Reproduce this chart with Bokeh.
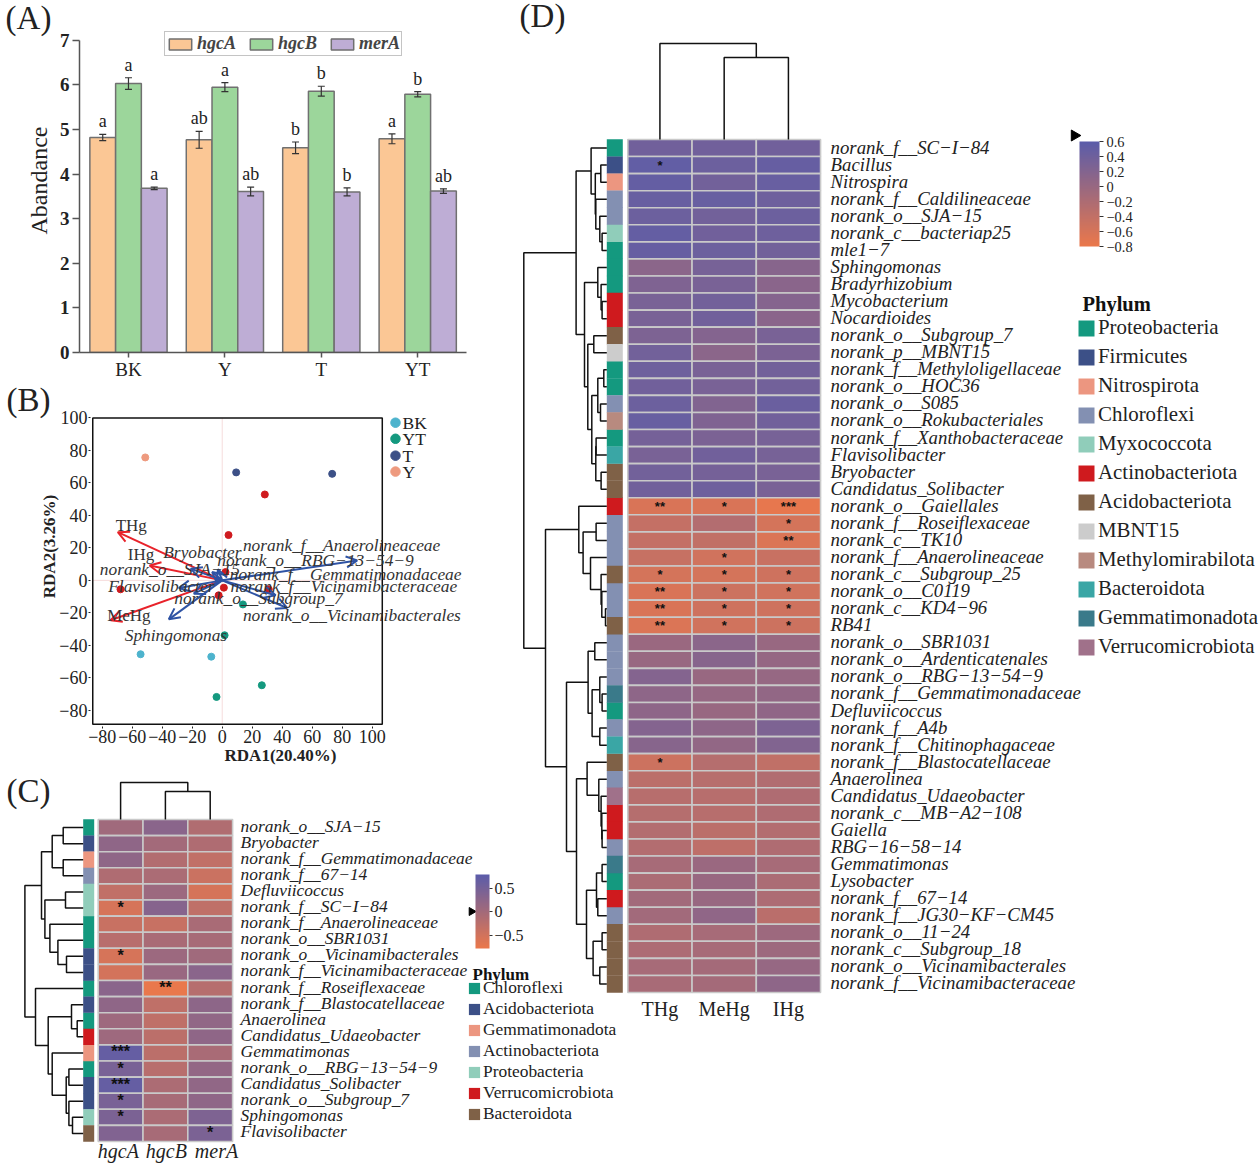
from bokeh.plotting import figure
from bokeh.embed import file_html
from bokeh.resources import INLINE
from bokeh.core.properties import value
from bokeh.models import (Range1d, FixedTicker, Legend, LegendItem, LabelSet, ColumnDataSource, BoxAnnotation,
                          Whisker, TeeHead, Arrow, OpenHead, ColorBar, LinearColorMapper)
import math

SERIF = "Liberation Serif"

# ---------- panel A data
groups = ["BK", "Y", "T", "YT"]
genes = ["hgcA", "hgcB", "merA"]
hgcA_vals = [4.82, 4.77, 4.59, 4.79]
hgcB_vals = [6.03, 5.95, 5.86, 5.79]
merA_vals = [3.68, 3.61, 3.60, 3.62]
hgcA_err = [0.07, 0.19, 0.13, 0.11]
hgcB_err = [0.13, 0.10, 0.11, 0.06]
merA_err = [0.03, 0.10, 0.09, 0.05]
hgcA_sig = ["a", "ab", "b", "a"]
hgcB_sig = ["a", "a", "b", "b"]
merA_sig = ["a", "ab", "b", "ab"]

# ---------- panel B data
bk_x = [-54.4, -7.3]; bk_y = [-45.5, -47.0]
yt_x = [-3.8, 26.4, 13.8, 1.6]; yt_y = [-71.8, -64.6, -14.8, -33.8]
t_x = [9.3, 73.3]; t_y = [66.5, 65.6]
y_x = [-51.3]; y_y = [75.7]
other_x = [28.4, 4.2, 2.2, 1.1, 31.0, -67.8, -2.4]
other_y = [52.9, 27.9, 5.1, -4.5, -5.5, -5.5, -9.2]
env_names = ["THg", "IHg", "MeHg"]
env_x = [-69.6, -48.4, -74.4]
env_y = [29.7, 9.2, -24.6]
env_lx = [-71, -62.9, -76.7]
env_ly = [33.8, 15.8, -21.5]
taxa_x = [90.0, 35.6, 43.3, -35.6, -28.9, -18.9, -21.0, -2.9, -6.7]
taxa_y = [12.3, -9.2, -17.0, -24.0, -4.7, -8.2, 7.2, 6.8, 5.1]
taxa_names = ["Bryobacter", "norank_f__Anaerolineaceae", "norank_o__RBG\u221213\u221254\u22129",
              "norank_o__SJA\u221215", "norank_f__Gemmatimonadaceae", "Flavisolibacter",
              "norank_f__Vicinamibacteraceae", "norank_o__Subgroup_7",
              "norank_o__Vicinamibacterales", "Sphingomonas"]
taxa_lx = [-39.3, 13.8, -3.3, -81.6, 5.0, -76.0, 5.5, -32.0, 13.8, -65.0]
taxa_ly = [17.4, 21.5, 12.3, 6.8, 3.9, -3.7, -3.7, -10.9, -21.5, -33.8]
b_groups = ["BK", "YT", "T", "Y"]
b_group_colors = ["#4DB3CD", "#14997F", "#3C5087", "#EE9A7F"]

# ---------- panel C data
c_rows = ["norank_o__SJA\u221215", "Bryobacter", "norank_f__Gemmatimonadaceae", "norank_f__67\u221214",
          "Defluviicoccus", "norank_f__SC\u2212I\u221284", "norank_f__Anaerolineaceae", "norank_o__SBR1031",
          "norank_o__Vicinamibacterales", "norank_f__Vicinamibacteraceae", "norank_f__Roseiflexaceae",
          "norank_f__Blastocatellaceae", "Anaerolinea", "Candidatus_Udaeobacter", "Gemmatimonas",
          "norank_o__RBG\u221213\u221254\u22129", "Candidatus_Solibacter", "norank_o__Subgroup_7",
          "Sphingomonas", "Flavisolibacter"]
c_cols = ["hgcA", "hgcB", "merA"]
c_hgcA = [.04, .22, .22, -.12, -.32, -.55, -.40, -.22, -.55, -.52, .28, .22, .06, .06, .68, .46, .68, .46, .44, .38]
c_hgcB = [.28, .00, -.16, -.08, .08, .32, -.38, -.06, .08, .12, -.76, -.30, -.30, -.26, -.26, -.22, -.10, -.04, -.08, -.04]
c_merA = [-.14, -.12, -.32, -.42, -.54, -.30, -.06, -.04, .04, .28, -.20, .24, .20, .22, -.06, .18, .20, .22, .40, .44]
c_stars = {(5, 0): "*", (8, 0): "*", (10, 1): "**", (14, 0): "***", (15, 0): "*",
           (16, 0): "***", (17, 0): "*", (18, 0): "*", (19, 2): "*"}
c_phyla_names = ["Chloroflexi", "Acidobacteriota", "Gemmatimonadota", "Actinobacteriota",
                 "Proteobacteria", "Verrucomicrobiota", "Bacteroidota"]
c_phyla_colors = ["#14997F", "#3C5087", "#EC9680", "#8390B2", "#90CDBA", "#CF1A1E", "#7F6147"]
c_row_phyla = [0, 1, 2, 3, 4, 4, 0, 0, 1, 1, 0, 1, 0, 5, 2, 0, 1, 1, 4, 6]
c_row_tree = (58.3,
              (41.7, (31, (20, 0, 1), (20, 2, 3)),
               (38.3, (17.7, 4, 5), (33.3, 6, (25.3, 7, (16.7, 8, 9))))),
              (47.7, 10,
               (35, (11.7, 11, (6, 12, 13)),
                (31, 14, (17, (14.3, 15, 16), (14.3, 17, (10.7, 18, 19)))))))
c_col_tree = (37, 0, (28, 1, 2))

# ---------- panel D data
d_rows = ["norank_f__SC\u2212I\u221284", "Bacillus", "Nitrospira", "norank_f__Caldilineaceae", "norank_o__SJA\u221215",
          "norank_c__bacteriap25", "mle1\u22127", "Sphingomonas", "Bradyrhizobium", "Mycobacterium", "Nocardioides",
          "norank_o__Subgroup_7", "norank_p__MBNT15", "norank_f__Methyloligellaceae", "norank_o__HOC36",
          "norank_o__S085", "norank_o__Rokubacteriales", "norank_f__Xanthobacteraceae", "Flavisolibacter",
          "Bryobacter", "Candidatus_Solibacter", "norank_o__Gaiellales", "norank_f__Roseiflexaceae",
          "norank_c__TK10", "norank_f__Anaerolineaceae", "norank_c__Subgroup_25", "norank_o__C0119",
          "norank_c__KD4\u221296", "RB41", "norank_o__SBR1031", "norank_o__Ardenticatenales",
          "norank_o__RBG\u221213\u221254\u22129", "norank_f__Gemmatimonadaceae", "Defluviicoccus", "norank_f__A4b",
          "norank_f__Chitinophagaceae", "norank_f__Blastocatellaceae", "Anaerolinea", "Candidatus_Udaeobacter",
          "norank_c__MB\u2212A2\u2212108", "Gaiella", "RBG\u221216\u221258\u221214", "Gemmatimonas", "Lysobacter",
          "norank_f__67\u221214", "norank_f__JG30\u2212KF\u2212CM45", "norank_o__11\u221224", "norank_c__Subgroup_18",
          "norank_o__Vicinamibacterales", "norank_f__Vicinamibacteraceae"]
d_cols = ["THg", "MeHg", "IHg"]
d_THg = [.38, .52, .50, .46, .42, .50, .48, .12, .24, .30, .30, .26, .36, .40, .38, .42, .46, .34, .30, .36, .38,
         -.62, -.42, -.42, -.44, -.58, -.62, -.62, -.64, -.02, .00, .20, .10, .10, .20, .16,
         -.50, -.34, -.30, -.28, -.26, -.26, -.14, -.18, -.10, -.10, -.22, -.20, -.14, -.16]
d_MeHg = [.38, .42, .36, .46, .36, .38, .42, .32, .30, .36, .38, .20, .12, .30, .30, .22, .24, .28, .38, .34, .40,
          -.62, -.26, -.40, -.54, -.58, -.50, -.52, -.54, .12, .16, .00, .02, .00, .10, .06,
          -.28, -.30, -.30, -.30, -.34, -.36, -.02, .00, .00, .08, -.14, -.14, -.12, -.12]
d_IHg = [.38, .48, .46, .40, .42, .40, .36, .16, .14, .18, .14, .30, .28, .36, .36, .44, .38, .32, .32, .30, .30,
         -.76, -.58, -.64, -.46, -.52, -.54, -.52, -.50, .00, .03, .02, .06, .08, .26, .22,
         -.38, -.24, -.22, -.22, -.26, -.22, -.14, -.18, -.20, -.32, -.04, -.04, .02, .10]
d_stars = {(1, 0): "*", (21, 0): "**", (21, 1): "*", (21, 2): "***", (22, 2): "*", (23, 2): "**", (24, 1): "*",
           (25, 0): "*", (25, 1): "*", (25, 2): "*", (26, 0): "**", (26, 1): "*", (26, 2): "*",
           (27, 0): "**", (27, 1): "*", (27, 2): "*", (28, 0): "**", (28, 1): "*", (28, 2): "*", (36, 0): "*"}
d_phyla_names = ["Proteobacteria", "Firmicutes", "Nitrospirota", "Chloroflexi", "Myxococcota", "Actinobacteriota",
                 "Acidobacteriota", "MBNT15", "Methylomirabilota", "Bacteroidota", "Gemmatimonadota",
                 "Verrucomicrobiota"]
d_phyla_colors = ["#14997F", "#3C5087", "#EC9680", "#8390B2", "#90CDBA", "#CF1A1E", "#7F6147", "#CCCCCC",
                  "#B88A7F", "#3AA6A5", "#3A7A8A", "#A0718A"]
d_row_phyla = [0, 1, 2, 3, 3, 4, 0, 0, 0, 5, 5, 6, 7, 0, 0, 3, 8, 0, 9, 6, 6, 5, 3, 3, 3, 6, 3, 3, 6, 3, 3, 3, 10, 0,
               3, 9, 6, 3, 11, 5, 5, 3, 10, 0, 5, 3, 6, 6, 6, 6]
d_row_tree = (83,
              (30.7,
               (15.7, 0, (11.5, (6, 1, 2), (11, 3, (7, 4, (4.7, 5, 6))))),
               (22.3, (9, 7, (5.7, 8, (4.7, 9, 10))),
                (19, (13, 11, 12),
                 (15, (9, (3, 13, 14), (6.3, 15, 16)), (11, (10.7, 17, 18), (5.7, 19, 20)))))),
              (61.3,
               (28, 21, (23.7, (10.7, 22, 23), (16.3, 24, (5.7, 25, (5, 26, (1.3, 27, 28)))))),
               (40.3,
                (18.7, (12, 29, 30), (14.7, (7, 31, (4.7, 32, 33)), (7, 34, 35))),
                (30.3,
                 (19.7, 36, (8, 37, (5.7, 38, (5, 39, (4.7, 40, 41))))),
                 (20.3, (10.3, (4.7, 42, 43), (9, 44, 45)), (13.7, (4.7, 46, 47), (7, 48, 49)))))))
d_col_tree = (96, 0, (82, 1, 2))

LOW_RGB = (235, 120, 75)
HIGH_RGB = (90, 92, 170)
palette = ["#%02x%02x%02x" % tuple(round(a + (b - a) * i / 255) for a, b in zip(LOW_RGB, HIGH_RGB)) for i in range(256)]


def place(left, top):
    return {"position": "absolute", "left": f"{left}px", "top": f"{top}px"}


def tag(cx, cy, text, size, angle=0.0, style="normal", color="#222222"):
    """A free text centred on page position (cx, cy), in a small transparent figure of its own."""
    w = h = int(size * len(text) * 0.75) + 8
    p = figure(width=w, height=h, toolbar_location=None, output_backend="svg", min_border=0,
               x_range=Range1d(0, w), y_range=Range1d(0, h), styles=place(round(cx - w / 2), round(cy - h / 2)))
    p.background_fill_color = None
    p.border_fill_color = None
    p.outline_line_color = None
    p.grid.visible = False
    p.axis.visible = False
    p.text(x=[w / 2], y=[h / 2], text=[text], angle=angle, text_align="center", text_baseline="middle",
           text_font=value(SERIF), text_font_size=f"{size}px", text_font_style=style, text_color=color)
    return p


def walk(node, xs, ys):
    if isinstance(node, int):
        return 0, node + .5
    h, a, b = node
    ha, pa_ = walk(a, xs, ys)
    hb, pb_ = walk(b, xs, ys)
    xs.append([ha, h, h, hb])
    ys.append([pa_, pa_, pb_, pb_])
    return h, (pa_ + pb_) / 2


def heat_panel(ox, oy, W, H, cx, ry, colw, rowh, rows, cols, vals, stars, phyla, phyla_names, phyla_colors,
               row_tree, col_tree, vmin, vmax, strip_l, strip_r, gap_label, label_size, star_size, label_off, star_off):
    p = figure(width=W, height=H, toolbar_location=None, output_backend="svg", min_border=0,
               x_range=Range1d((ox - cx) / colw, (ox + W - cx) / colw),
               y_range=Range1d((oy + H - ry) / rowh, (oy - ry) / rowh), styles=place(ox, oy))
    p.background_fill_color = None
    p.border_fill_color = None
    p.outline_line_color = None
    p.grid.visible = False
    p.axis.visible = False
    mapper = LinearColorMapper(palette=palette, low=vmin, high=vmax)
    xc, yc, vv = [], [], []
    for c, col in enumerate(vals):
        for r, v in enumerate(col):
            xc.append(c + .5); yc.append(r + .5); vv.append(v)
    src = ColumnDataSource(dict(x=xc, y=yc, v=vv))
    p.rect(x="x", y="y", width=1, height=1, source=src, fill_color={"field": "v", "transform": mapper},
           line_color="#c9c9c9", line_width=1.6)
    sx = [k[1] + .5 for k in stars]; sy = [k[0] + .5 for k in stars]; st = list(stars.values())
    p.text(x=sx, y=sy, text=st, text_align="center", text_baseline="middle", text_font=value("Liberation Sans"),
           y_offset=star_off, text_font_size=f"{star_size}px", text_font_style="bold", text_color="#111111")
    sl = (strip_l - cx) / colw; sr = (strip_r - cx) / colw
    items = []
    for i, (name, color) in enumerate(zip(phyla_names, phyla_colors)):
        idx = [r for r, ph in enumerate(phyla) if ph == i]
        rr = p.rect(x=[(sl + sr) / 2] * len(idx), y=[r + .5 for r in idx], width=sr - sl, height=1.02,
                    fill_color=color, line_color=None)
        items.append(LegendItem(label=name, renderers=[rr]))
    xs, ys = [], []
    walk(row_tree, xs, ys)
    xs = [[sl - v / colw for v in seg] for seg in xs]
    p.multi_line(xs, ys, line_color="#111111", line_width=1.5)
    xs, ys = [], []
    walk(col_tree, xs, ys)
    ys2 = [[-v / rowh for v in seg] for seg in xs]
    p.multi_line(ys, ys2, line_color="#111111", line_width=1.5)
    p.text(x=[len(cols) + gap_label / colw] * len(rows), y=[r + .5 for r in range(len(rows))], text=rows,
           y_offset=label_off, text_baseline="middle", text_font=value(SERIF), text_font_style="italic",
           text_font_size=f"{label_size}px", text_color="#222222")
    return p, mapper, items


# ================= Panel A
WA, HA = 470, 385
pa = figure(width=WA, height=HA, toolbar_location=None, output_backend="svg", x_range=Range1d(-.508, 3.506),
            y_range=Range1d(0, 352 / 44.6), min_border_left=79, min_border_right=WA - 466, min_border_top=0,
            min_border_bottom=HA - 352, styles=place(0, 0))
pa.background_fill_color = None
pa.border_fill_color = None
pa.outline_line_color = None
pa.grid.visible = False
bar_colors = ["#FBC795", "#9CD69B", "#BEADD5"]
offs = [-.267, 0, .267]
series = [hgcA_vals, hgcB_vals, merA_vals]
errs = [hgcA_err, hgcB_err, merA_err]
sigs = [hgcA_sig, hgcB_sig, merA_sig]
leg_items = []
for k in range(3):
    xs = [i + offs[k] for i in range(4)]
    r = pa.vbar(x=xs, top=series[k], width=.267, fill_color=bar_colors[k], line_color="#707070", line_width=1.5)
    leg_items.append(LegendItem(label=genes[k], renderers=[r]))
    up = [v + e for v, e in zip(series[k], errs[k])]
    lo = [v - e for v, e in zip(series[k], errs[k])]
    pa.add_layout(Whisker(base="x", upper="u", lower="l", source=ColumnDataSource(dict(x=xs, u=up, l=lo)),
                          line_color="#333333", line_width=1.2, level="annotation",
                          upper_head=TeeHead(size=7, line_color="#333333", line_width=1.2),
                          lower_head=TeeHead(size=7, line_color="#333333", line_width=1.2)))
    pa.text(x=xs, y=up, text=sigs[k], text_align="center", text_baseline="bottom", y_offset=-3,
            text_font=value(SERIF), text_font_size="18px", text_color="#222222")
lga = Legend(items=leg_items, orientation="horizontal", location=(85, 296), glyph_width=28, glyph_height=14,
             label_text_font=SERIF, label_text_font_size="18px", label_text_font_style="bold italic",
             label_standoff=3, spacing=11, padding=1, margin=0, border_line_color="#8a8a8a", border_line_width=1.5,
             background_fill_color="#ffffff", background_fill_alpha=1, label_height=16)
pa.add_layout(lga, "center")
pa.xaxis.ticker = FixedTicker(ticks=[0, 1, 2, 3])
pa.xaxis.major_label_overrides = {i: g for i, g in enumerate(groups)}
pa.yaxis.ticker = FixedTicker(ticks=list(range(8)))
pa.yaxis.bounds = (0, 7)
for ax in (pa.xaxis[0], pa.yaxis[0]):
    ax.axis_line_color = "#555555"; ax.axis_line_width = 1.5
    ax.major_tick_line_color = "#555555"; ax.major_tick_line_width = 1.5
    ax.major_tick_in = 0; ax.minor_tick_line_color = None
    ax.major_label_text_font = SERIF; ax.major_label_text_font_size = "19px"; ax.major_label_text_color = "#222222"
pa.yaxis.major_label_text_font_style = "bold"
pa.yaxis.major_tick_out = 7
pa.yaxis.major_label_standoff = 3
pa.xaxis.major_tick_out = 5
pa.xaxis.major_label_standoff = 1

# ================= Panel B
WB, HB = 470, 390
pb = figure(width=WB, height=HB, toolbar_location=None, output_backend="svg", x_range=Range1d(-87.8, 165.5),
            y_range=Range1d(-90, 102.15), min_border_left=90, min_border_right=0, min_border_top=29,
            min_border_bottom=49, styles=place(0, 385))
pb.background_fill_color = None
pb.border_fill_color = None
pb.grid.visible = False
pb.outline_line_color = None
pb.add_layout(BoxAnnotation(left=-86.3, right=106.7, bottom=-88.6, top=100, fill_alpha=0, line_color="#111111",
                            line_width=1.5, line_alpha=1))
pb.segment(x0=[-86.3, 0], y0=[0, -88.6], x1=[106.7, 0], y1=[0, 100], line_color="#f6dcdc", line_width=1)
for ex, ey, color in [(env_x, env_y, "#E8222A"), (taxa_x, taxa_y, "#2E53A4")]:
    zeros = [0] * len(ex)
    pb.add_layout(Arrow(end=OpenHead(size=11, line_color=color, line_width=2), line_color=color, line_width=2,
                        x_start="a", y_start="b", x_end="c", y_end="d",
                        source=ColumnDataSource(dict(a=zeros, b=zeros, c=ex, d=ey))))
for xx, yy, col in zip([bk_x, yt_x, t_x, y_x], [bk_y, yt_y, t_y, y_y], b_group_colors):
    pb.scatter(xx, yy, size=7, color=col)
pb.scatter(other_x, other_y, size=7, color="#CF1A1E")
# key of panel B: points plus texts (tighter than a Legend's row height allows)
key_y = [97.1, 87.2, 76.8, 67.0]
pb.scatter([115.5] * 4, key_y, size=9.5, color=b_group_colors)
pb.add_layout(LabelSet(x="x", y="y", text="t", source=ColumnDataSource(dict(x=[120.2] * 4, y=key_y, t=b_groups)),
                       text_font=SERIF, text_font_size="17.5px", text_baseline="middle", text_color="#222222"))
pb.add_layout(LabelSet(x="x", y="y", text="t", source=ColumnDataSource(dict(x=env_lx, y=env_ly, t=env_names)),
                       text_font=SERIF, text_font_size="17px", text_baseline="middle", text_color="#333333"))
pb.add_layout(LabelSet(x="x", y="y", text="t", source=ColumnDataSource(dict(x=taxa_lx, y=taxa_ly, t=taxa_names)),
                       text_font=SERIF, text_font_size="17.4px", text_font_style="italic", text_baseline="middle", text_color="#333333"))
xt = list(range(-80, 101, 20))
pb.xaxis.ticker = FixedTicker(ticks=xt)
pb.yaxis.ticker = FixedTicker(ticks=xt)
ov = {t: (f"\u2212{abs(t)}" if t < 0 else str(t)) for t in xt}
pb.xaxis.major_label_overrides = ov
pb.yaxis.major_label_overrides = ov
for ax in (pb.xaxis[0], pb.yaxis[0]):
    ax.axis_line_color = None
    ax.major_tick_line_color = "#222222"; ax.major_tick_line_width = 1
    ax.major_tick_in = 0; ax.major_tick_out = 2; ax.minor_tick_line_color = None
    ax.major_label_text_font = SERIF; ax.major_label_text_font_size = "18px"; ax.major_label_text_color = "#222222"
    ax.major_label_standoff = 1
pb.xaxis.bounds = (-86.3, 118.7)
pb.xaxis.axis_label = "RDA1(20.40%)"
pb.xaxis.axis_label_text_font = SERIF
pb.xaxis.axis_label_text_font_size = "17px"
pb.xaxis.axis_label_text_font_style = "bold"
pb.xaxis.axis_label_text_color = "#222222"
pb.xaxis.axis_label_standoff = 0

# ================= Panel C
WC, HC = 620, 390
pc, mc, items_c = heat_panel(0, 775, WC, HC, 97.7, 819, 44.8, 16.1, c_rows, c_cols, [c_hgcA, c_hgcB, c_merA], c_stars,
                             c_row_phyla, c_phyla_names, c_phyla_colors, c_row_tree, c_col_tree, -.78, .8, 82.7, 93.7,
                             8, 17.4, 16, -2, -1)
pc.text(x=[.45, 1.52, 2.64], y=[(1150.5 - 819) / 16.1] * 3, text=c_cols, text_align="center", text_baseline="middle",
        text_font=value(SERIF), text_font_style="italic", text_font_size="20px", text_color="#222222")
lgc = Legend(items=items_c, location=(467, HC - (1124 - 775)), glyph_width=14, glyph_height=14,
             label_text_font=SERIF, label_text_font_size="17.4px", label_standoff=2, spacing=0, padding=0, margin=0,
             border_line_color=None, background_fill_alpha=0, label_height=17, label_text_color="#222222")
pc.add_layout(lgc, "center")
pc.text(x=[(472 - 97.7) / 44.8], y=[(974 - 819) / 16.1], text=["Phylum"], text_baseline="middle", text_font=value(SERIF),
        text_font_size="17px", text_font_style="bold", text_color="#111111")
cbc = ColorBar(color_mapper=mc, ticker=FixedTicker(ticks=[-.5, 0, .5]), major_label_overrides={-.5: "\u22120.5", 0: "0", .5: "0.5"},
               width=14, height=74, location=(475, HC - (948 - 775)), padding=0, margin=0, background_fill_alpha=0,
               border_line_color=None, major_tick_line_color="#333333", major_tick_in=0, major_tick_out=3,
               bar_line_color=None, major_label_text_font=SERIF, major_label_text_font_size="16px",
               major_label_text_color="#222222", label_standoff=2, minor_tick_line_color=None)
pc.add_layout(cbc)
pc.scatter(x=[(471 - 97.7) / 44.8], y=[(911 - 819) / 16.1], marker="triangle", angle=-math.pi / 2, size=8, color="black")

# ================= Panel D
WD, HD = 750, 1165
pd, md, items_d = heat_panel(510, 0, WD, HD, 627.3, 139, 64.25, 17.06, d_rows, d_cols, [d_THg, d_MeHg, d_IHg], d_stars,
                             d_row_phyla, d_phyla_names, d_phyla_colors, d_row_tree, d_col_tree, -.8, .6, 606.3, 622.3,
                             10, 18.8, 13, -1, 0)
pd.text(x=[.5, 1.5, 2.5], y=[(1008.5 - 139) / 17.06] * 3, text=d_cols, text_align="center", text_baseline="middle",
        text_font=value(SERIF), text_font_size="20px", text_color="#222222")
lgd = Legend(items=items_d, location=(1076 - 510, HD - 659), glyph_width=20, glyph_height=20,
             label_text_font=SERIF, label_text_font_size="20.9px", label_standoff=2, spacing=4, padding=0, margin=0,
             border_line_color=None, background_fill_alpha=0, label_height=20, label_text_color="#222222")
pd.add_layout(lgd, "center")
pd.text(x=[(1082 - 627.3) / 64.25], y=[(303 - 139) / 17.06], text=["Phylum"], text_baseline="middle", text_font=value(SERIF),
        text_font_size="20.5px", text_font_style="bold", text_color="#111111")
cbd = ColorBar(color_mapper=md, ticker=FixedTicker(ticks=[-.8, -.6, -.4, -.2, 0, .2, .4, .6]),
               major_label_overrides={-.8: "\u22120.8", -.6: "\u22120.6", -.4: "\u22120.4", -.2: "\u22120.2", 0: "0", .2: "0.2", .4: "0.4", .6: "0.6"},
               width=20, height=105, location=(1079 - 510, HD - 246), padding=0, margin=0, background_fill_alpha=0,
               border_line_color=None, major_tick_line_color="#333333", major_tick_in=0, major_tick_out=4,
               bar_line_color=None, major_label_text_font=SERIF, major_label_text_font_size="14.4px",
               major_label_text_color="#222222", label_standoff=3, minor_tick_line_color=None)
pd.add_layout(cbd)
pd.scatter(x=[(1074 - 627.3) / 64.25], y=[(135 - 139) / 17.06], marker="triangle", angle=-math.pi / 2, size=11, color="black")

tags = [tag(28, 17, "(A)", 33), tag(28, 399, "(B)", 33), tag(28, 790, "(C)", 33), tag(542, 15, "(D)", 33),
        tag(38, 180, "Abandance", 24, angle=math.pi / 2),
        tag(49, 545.5, "RDA2(3.26%)", 17, angle=math.pi / 2, style="bold")]

open("out.html", "w").write(file_html([pa, pb, pc, pd] + tags, INLINE))
